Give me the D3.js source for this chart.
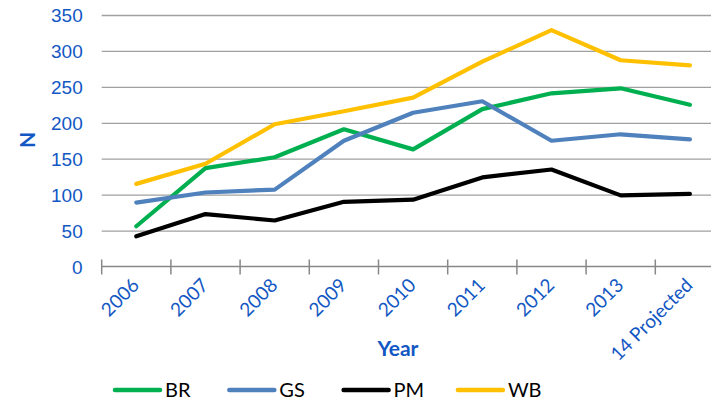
<!DOCTYPE html>
<html>
<head>
<meta charset="utf-8">
<script src="https://cdn.jsdelivr.net/npm/d3@7/dist/d3.min.js"></script>
<style>
  body { margin: 0; background: #fff; }
  svg { display: block; font-family: Lato, "Open Sans", sans-serif; }
  .tick text { fill: #1257c3; font-size: 19px; }
</style>
</head>
<body>
<svg width="711" height="401"></svg>
<script>
// chart data
var years = ["2006", "2007", "2008", "2009", "2010", "2011", "2012", "2013", "14 Projected"];
var seriesNames = ["BR", "GS", "PM", "WB"];
var brValues = [56, 137, 152, 191, 163, 219, 241, 248, 225];
var gsValues = [89, 103, 107, 175, 214, 230, 175, 184, 177];
var pmValues = [42, 73, 64, 90, 93, 124, 135, 99, 101];
var wbValues = [115, 143, 198, 216, 235, 285, 329, 287, 280];
var yTicks = [0, 50, 100, 150, 200, 250, 300, 350];

var colors = {BR: "#00b050", GS: "#4f81bd", PM: "#000000", WB: "#ffc000"};
var series = [
  {name: "BR", values: brValues},
  {name: "GS", values: gsValues},
  {name: "PM", values: pmValues},
  {name: "WB", values: wbValues}
];

var svg = d3.select("svg"),
  plotLeft = 101.7, plotRight = 724.5,
  plotTop = 15, plotBottom = 266.5;

var x = d3.scaleBand().domain(years).range([plotLeft, plotRight]).padding(0),
  y = d3.scaleLinear().domain([0, 350]).range([plotBottom, plotTop]);

// gridlines
svg.append("g")
  .attr("transform", "translate(" + plotLeft + ",0)")
  .call(d3.axisLeft(y).tickValues(yTicks.slice(1)).tickSize(-(plotRight - plotLeft)).tickFormat(""))
  .call(function(g) { g.select(".domain").remove(); })
  .selectAll("line").attr("stroke", "#a0a0a0").attr("stroke-width", 1.3);

// y labels
svg.append("g")
  .attr("transform", "translate(" + (plotLeft - 19) + ",0)")
  .call(d3.axisLeft(y).tickValues(yTicks).tickSize(0).tickPadding(0))
  .call(function(g) { g.select(".domain").remove(); })
  .selectAll("text").attr("dy", "0.36em");

// x axis line and crossing ticks at band edges
var xa = svg.append("g");
xa.append("line")
  .attr("x1", plotLeft).attr("x2", plotRight)
  .attr("y1", y(0)).attr("y2", y(0))
  .attr("stroke", "#888").attr("stroke-width", 1.5);
xa.selectAll(".xt")
  .data(years)
  .enter().append("line")
  .attr("class", "xt")
  .attr("x1", function(d) { return x(d); })
  .attr("x2", function(d) { return x(d); })
  .attr("y1", y(0) - 7).attr("y2", y(0) + 8)
  .attr("stroke", "#888").attr("stroke-width", 1.5);

// x labels rotated
xa.selectAll(".xl")
  .data(years)
  .enter().append("text")
  .attr("class", "xl")
  .attr("transform", function(d) {
    return "translate(" + (x(d) + x.bandwidth() / 2 + 4) + "," + (y(0) + 20) + ") rotate(-45)";
  })
  .attr("text-anchor", "end")
  .attr("fill", "#1257c3")
  .attr("font-size", "19px")
  .text(function(d) { return d; });

// axis titles
svg.append("text")
  .attr("x", 398).attr("y", 356)
  .attr("text-anchor", "middle")
  .attr("fill", "#1257c3")
  .attr("font-weight", "bold")
  .attr("font-size", "21px")
  .text("Year");

svg.append("text")
  .attr("transform", "translate(35,140) rotate(-90)")
  .attr("text-anchor", "middle")
  .attr("fill", "#1257c3")
  .attr("font-weight", "bold")
  .attr("font-size", "21px")
  .text("N");

// lines
var line = d3.line()
  .x(function(d, i) { return x(years[i]) + x.bandwidth() / 2; })
  .y(function(d) { return y(d); });

svg.selectAll(".series")
  .data(series)
  .enter().append("path")
  .attr("class", "series")
  .attr("d", function(d) { return line(d.values); })
  .attr("fill", "none")
  .attr("stroke", function(d) { return colors[d.name]; })
  .attr("stroke-width", 4.2)
  .attr("stroke-linejoin", "round")
  .attr("stroke-linecap", "round");

// legend
var leg = svg.selectAll(".leg")
  .data(seriesNames)
  .enter().append("g")
  .attr("class", "leg")
  .attr("transform", function(d, i) { return "translate(" + (115 + i * 114.3) + ",390)"; });

leg.append("line")
  .attr("x1", 0).attr("x2", 45)
  .attr("stroke", function(d) { return colors[d]; })
  .attr("stroke-width", 4.5)
  .attr("stroke-linecap", "round");

leg.append("text")
  .attr("x", 50).attr("dy", "0.36em")
  .attr("font-size", "20px")
  .attr("fill", "#000")
  .text(function(d) { return d; });
</script>
</body>
</html>
